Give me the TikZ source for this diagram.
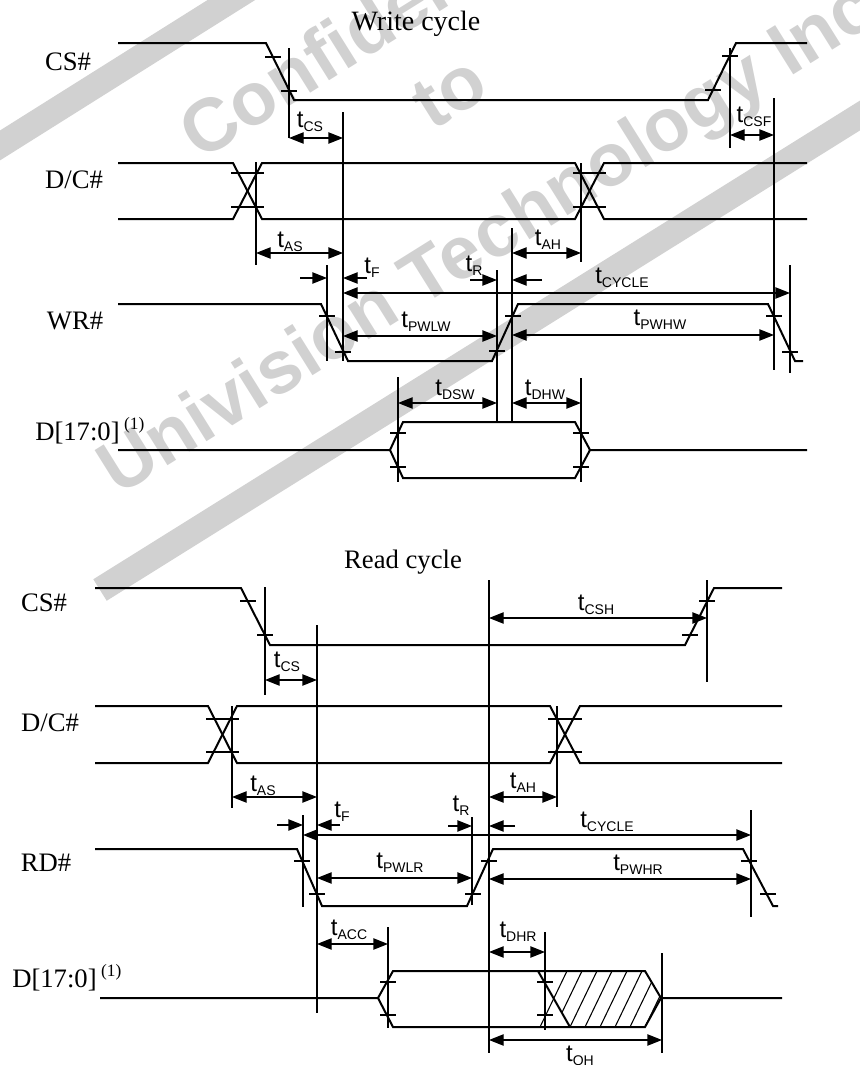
\documentclass[tikz,border=0pt]{standalone}
\usepackage{fontspec}
\setmainfont{Liberation Serif}
\setsansfont{Liberation Sans}
\usetikzlibrary{arrows.meta}

\newcommand{\tsub}[1]{{\fontsize{18}{18}\selectfont t}\raisebox{-3pt}{\fontsize{10.5}{10.5}\selectfont #1}}

\begin{document}
\begin{tikzpicture}[x=0.75pt,y=0.75pt,yscale=-1,xscale=1,
  sig/.style={line width=1.5pt},
  guide/.style={line width=0.8pt},
  tickmark/.style={line width=0.8pt},
  dim/.style={line width=1pt,{Triangle[length=11pt,width=8.5pt]}-{Triangle[length=11pt,width=8.5pt]}},
  ptr/.style={line width=1pt,-{Triangle[length=11pt,width=8.5pt]}},
  hatch/.style={line width=0.8pt},
  lab/.style={font=\fontsize{20}{20}\selectfont,inner sep=0pt},
  tlab/.style={font=\sffamily,inner sep=0pt},
  wmark/.style={font=\sffamily\bfseries\fontsize{56}{56}\selectfont,text=black!18,inner sep=0pt,rotate=32},
  wbar/.style={line width=19pt,black!18}]
\useasboundingbox (0,0) rectangle (860,1065);

%Watermark
\draw[wbar] (-20,158) -- (260,-18);
\draw[wbar] (100,590) -- (880,103);
\draw (200,162) node [wmark,anchor=base west] (wm1) {Confidential};
\draw (432,132) node [wmark,anchor=base west] (wm2) {to};
\draw (118,497) node [wmark,anchor=base west] (wm3) {Univision Technology Inc};

%%%%%%%%%% Write cycle %%%%%%%%%%
%Shape: CS#
\draw[sig] (118,43) -- (266,43) -- (294,100) -- (708,100) -- (736,43) -- (807,43);
\draw[tickmark] (265,57) -- (281,57);
\draw[tickmark] (281,91) -- (297,91);
\draw[tickmark] (705,90) -- (721,90);
\draw[tickmark] (722,56) -- (738,56);
%Shape: D/C#
\draw[sig] (118,163) -- (233,163) -- (262,219) -- (575,219) -- (604,163) -- (807,163);
\draw[sig] (118,219) -- (233,219) -- (262,163) -- (575,163) -- (604,219) -- (807,219);
\draw[tickmark] (231,173) -- (264,173);
\draw[tickmark] (231,207) -- (264,207);
\draw[tickmark] (573,173) -- (606,173);
\draw[tickmark] (573,207) -- (606,207);
%Shape: WR#
\draw[sig] (118,304) -- (321,304) -- (348,361) -- (492,361) -- (518,304) -- (768,304) -- (795,361) -- (803,361);
\draw[tickmark] (319,316) -- (335,316);
\draw[tickmark] (335,352) -- (351,352);
\draw[tickmark] (489,351) -- (505,351);
\draw[tickmark] (505,316) -- (521,316);
\draw[tickmark] (766,316) -- (782,316);
\draw[tickmark] (782,352) -- (798,352);
%Shape: D[17:0]
\draw[sig] (118,450) -- (390,450) -- (403,422) -- (575,422) -- (590,450) -- (807,450);
\draw[sig] (390,450) -- (403,478) -- (575,478) -- (590,450);
\draw[tickmark] (390,433) -- (406,433);
\draw[tickmark] (390,467) -- (406,467);
\draw[tickmark] (573,433) -- (589,433);
\draw[tickmark] (573,467) -- (589,467);

%Straight Lines
\draw[guide] (289,48) -- (289,138);
\draw[guide] (343,112) -- (343,361);
\draw[guide] (256,162) -- (256,265);
\draw[guide] (581,163) -- (581,262);
\draw[guide] (730,48) -- (730,148);
\draw[guide] (774,98) -- (774,370);
\draw[guide] (327,265) -- (327,361);
\draw[guide] (790,265) -- (790,373);
\draw[guide] (497,270) -- (497,422);
\draw[guide] (512,228) -- (512,422);
\draw[guide] (398,377) -- (398,482);
\draw[guide] (581,378) -- (581,482);

%Arrows
\draw[dim] (289,138) -- (343,138);
\draw[dim] (256,253) -- (343,253);
\draw[dim] (512,253) -- (581,253);
\draw[dim] (730,135) -- (774,135);
\draw[ptr] (300,278) -- (327,278);
\draw[ptr] (367,278) -- (343,278);
\draw[ptr] (470,280) -- (497,280);
\draw[ptr] (542,280) -- (512,280);
\draw[dim] (343,293) -- (790,293);
\draw[dim] (343,336) -- (497,336);
\draw[dim] (512,335) -- (774,335);
\draw[dim] (398,403) -- (497,403);
\draw[dim] (512,403) -- (581,403);

% Text Node
\draw (416,24) node [lab,font=\fontsize{21}{21}\selectfont] (wtitle) {Write cycle};
\draw (68,62) node [lab] (wcs) {CS\#};
\draw (74,180) node [lab] (wdc) {D/C\#};
\draw (75,321) node [lab] (wwr) {WR\#};
\draw (35,440) node [lab,anchor=base west] (wd) {D[17:0]\,\raisebox{8pt}{\fontsize{13}{13}\selectfont (1)}};
\draw (310,122) node [tlab] (wtcs) {\tsub{CS}};
\draw (290,242) node [tlab] (wtas) {\tsub{AS}};
\draw (548,240) node [tlab] (wtah) {\tsub{AH}};
\draw (754,117) node [tlab] (wtcsf) {\tsub{CSF}};
\draw (372,268) node [tlab] (wtf) {\tsub{F}};
\draw (474,266) node [tlab] (wtr) {\tsub{R}};
\draw (622,278) node [tlab] (wtcyc) {\tsub{CYCLE}};
\draw (426,322) node [tlab] (wtpwl) {\tsub{PWLW}};
\draw (660,320) node [tlab] (wtpwh) {\tsub{PWHW}};
\draw (455,390) node [tlab] (wtdsw) {\tsub{DSW}};
\draw (545,390) node [tlab] (wtdhw) {\tsub{DHW}};

%%%%%%%%%% Read cycle %%%%%%%%%%
%Shape: CS#
\draw[sig] (95,588) -- (241,588) -- (270,645) -- (685,645) -- (714,588) -- (782,588);
\draw[tickmark] (240,601) -- (256,601);
\draw[tickmark] (257,635) -- (273,635);
\draw[tickmark] (682,635) -- (698,635);
\draw[tickmark] (699,601) -- (715,601);
%Shape: D/C#
\draw[sig] (95,706) -- (208,706) -- (237,763) -- (550,763) -- (580,706) -- (782,706);
\draw[sig] (95,763) -- (208,763) -- (237,706) -- (550,706) -- (580,763) -- (782,763);
\draw[tickmark] (206,719) -- (239,719);
\draw[tickmark] (206,752) -- (239,752);
\draw[tickmark] (548,719) -- (582,719);
\draw[tickmark] (548,752) -- (582,752);
%Shape: RD#
\draw[sig] (95,849) -- (297,849) -- (322,906) -- (467,906) -- (493,849) -- (743,849) -- (773,906) -- (778,906);
\draw[tickmark] (294,861) -- (310,861);
\draw[tickmark] (309,894) -- (325,894);
\draw[tickmark] (465,894) -- (481,894);
\draw[tickmark] (481,861) -- (497,861);
\draw[tickmark] (741,861) -- (757,861);
\draw[tickmark] (760,894) -- (776,894);
%Shape: D[17:0]
\draw[sig] (100,998) -- (378,998) -- (393,971) -- (645,971) -- (661,998) -- (782,998);
\draw[sig] (378,998) -- (393,1027) -- (645,1027) -- (661,998);
\draw[sig] (538,971) -- (570,1027);
\draw[hatch] (540,1027) -- (567,971);
\begin{scope}
\clip (538,971) -- (645,971) -- (661,998) -- (645,1027) -- (570,1027) -- cycle;
\foreach \k in {1,...,8}
  \draw[hatch] ({540+15*\k},1027) -- ({567+15*\k},971);
\end{scope}
\draw[tickmark] (380,982) -- (396,982);
\draw[tickmark] (380,1015) -- (396,1015);
\draw[tickmark] (537,982) -- (553,982);
\draw[tickmark] (537,1015) -- (553,1015);

%Straight Lines
\draw[guide] (265,587) -- (265,695);
\draw[guide] (317,625) -- (317,1013);
\draw[guide] (707,580) -- (707,682);
\draw[guide] (489,580) -- (489,1053);
\draw[guide] (232,706) -- (232,808);
\draw[guide] (557,706) -- (557,807);
\draw[guide] (303,815) -- (303,907);
\draw[guide] (472,817) -- (472,905);
\draw[guide] (751,810) -- (751,917);
\draw[guide] (388,927) -- (388,1028);
\draw[guide] (545,932) -- (545,1030);
\draw[guide] (662,953) -- (662,1053);

%Arrows
\draw[dim] (265,680) -- (317,680);
\draw[dim] (489,618) -- (707,618);
\draw[dim] (232,797) -- (317,797);
\draw[dim] (489,797) -- (557,797);
\draw[ptr] (277,825) -- (303,825);
\draw[ptr] (340,825) -- (317,825);
\draw[ptr] (448,826) -- (472,826);
\draw[ptr] (515,826) -- (489,826);
\draw[dim] (303,835) -- (751,835);
\draw[dim] (317,878) -- (472,878);
\draw[dim] (489,879) -- (751,879);
\draw[dim] (317,944) -- (388,944);
\draw[dim] (489,952) -- (545,952);
\draw[dim] (489,1040) -- (662,1040);

% Text Node
\draw (403,562) node [lab] (rtitle) {Read cycle};
\draw (44,603) node [lab] (rcs) {CS\#};
\draw (50,723) node [lab] (rdc) {D/C\#};
\draw (46,863) node [lab] (rrd) {RD\#};
\draw (12,987) node [lab,anchor=base west] (rd) {D[17:0]\,\raisebox{8pt}{\fontsize{13}{13}\selectfont (1)}};
\draw (287,662) node [tlab] (rtcs) {\tsub{CS}};
\draw (596,605) node [tlab] (rtcsh) {\tsub{CSH}};
\draw (263,786) node [tlab] (rtas) {\tsub{AS}};
\draw (523,783) node [tlab] (rtah) {\tsub{AH}};
\draw (342,812) node [tlab] (rtf) {\tsub{F}};
\draw (461,806) node [tlab] (rtr) {\tsub{R}};
\draw (607,822) node [tlab] (rtcyc) {\tsub{CYCLE}};
\draw (400,863) node [tlab] (rtpwl) {\tsub{PWLR}};
\draw (638,865) node [tlab] (rtpwh) {\tsub{PWHR}};
\draw (349,930) node [tlab] (rtacc) {\tsub{ACC}};
\draw (518,932) node [tlab] (rtdhr) {\tsub{DHR}};
\draw (580,1056) node [tlab] (rtoh) {\tsub{OH}};

\end{tikzpicture}
\end{document}
